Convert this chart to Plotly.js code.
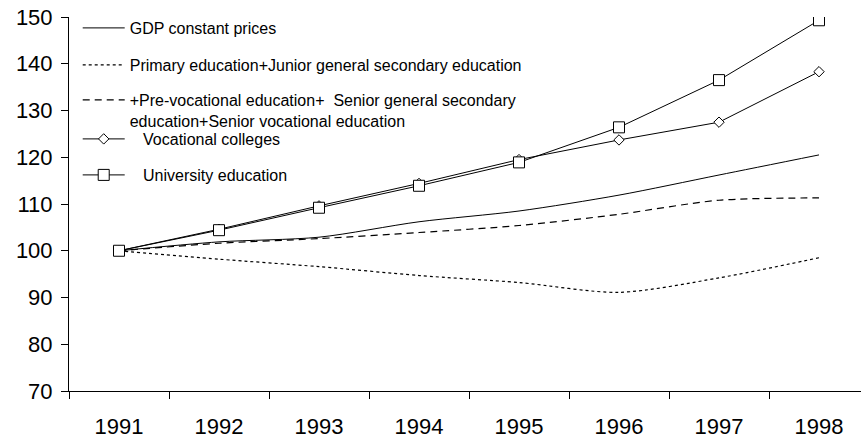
<!DOCTYPE html>
<html>
<head>
<meta charset="utf-8">
<script src="https://cdn.plot.ly/plotly-3.0.1.min.js"></script>
<style>html,body{margin:0;padding:0;background:#fff;}#chart{width:861px;height:442px;}</style>
</head>
<body>
<div id="chart"></div>
<script>
const years = [1991, 1992, 1993, 1994, 1995, 1996, 1997, 1998];
const gdp = [100, 101.9, 102.9, 106.2, 108.5, 111.9, 116.2, 120.5];
const primaryJunior = [100, 98.2, 96.6, 94.7, 93.2, 91.1, 94.2, 98.5];
const preVocSenior = [100, 101.6, 102.6, 103.9, 105.4, 107.8, 110.8, 111.3];
const vocationalColleges = [100, 104.6, 109.6, 114.4, 119.5, 123.7, 127.5, 138.3];
const university = [100, 104.4, 109.2, 113.9, 118.9, 126.4, 136.5, 149.3];
const seriesNames = [
  'GDP constant prices',
  'Primary education+Junior general secondary education',
  '+Pre-vocational education+\u00a0 Senior general secondary<br>education+Senior vocational education',
  '\u00a0\u00a0\u00a0Vocational colleges',
  '\u00a0\u00a0\u00a0University education'
];
const yTicks = [70, 80, 90, 100, 110, 120, 130, 140, 150];

const black = '#000';
const legendFont = {size: 16, family: 'Liberation Sans, Arial, sans-serif', color: black};
// pixel row of each legend entry's first line (layout only)
const legendRows = [29, 66, 101, 140, 176];
const plotTop = 17, plotH = 374, legendOffset = 18;
function legendBox(row) {
  return {
    x: 0.011, y: 1 - (row - legendOffset - plotTop) / plotH, xanchor: 'left', yanchor: 'top',
    bgcolor: 'rgba(0,0,0,0)', borderwidth: 0, font: legendFont,
    itemwidth: 42, valign: 'top'
  };
}

const traces = [
  {x: years, y: gdp, name: seriesNames[0], mode: 'lines', legend: 'legend',
   line: {color: black, width: 1, shape: 'spline', smoothing: 0.8}},
  {x: years, y: primaryJunior, name: seriesNames[1], mode: 'lines', legend: 'legend2',
   line: {color: black, width: 1.2, dash: 'dot', shape: 'spline', smoothing: 0.8}},
  {x: years, y: preVocSenior, name: seriesNames[2], mode: 'lines', legend: 'legend3',
   line: {color: black, width: 1.2, dash: '7px,5px', shape: 'spline', smoothing: 0.8}},
  {x: years, y: vocationalColleges, name: seriesNames[3], mode: 'lines+markers', legend: 'legend4',
   line: {color: black, width: 1},
   marker: {symbol: 'diamond', size: 8, color: '#fff', line: {color: black, width: 1}}},
  {x: years, y: university, name: seriesNames[4], mode: 'lines+markers', legend: 'legend5',
   line: {color: black, width: 1},
   marker: {symbol: 'square', size: 11, color: '#fff', line: {color: black, width: 1}}}
];

const layout = {
  width: 861, height: 442,
  margin: {l: 69, r: 0, t: plotTop, b: 442 - plotTop - plotH},
  paper_bgcolor: '#fff', plot_bgcolor: '#fff',
  font: {family: 'Liberation Sans, Arial, sans-serif', color: black},
  showlegend: true,
  legend: legendBox(legendRows[0]),
  legend2: legendBox(legendRows[1]),
  legend3: legendBox(legendRows[2]),
  legend4: legendBox(legendRows[3]),
  legend5: legendBox(legendRows[4]),
  xaxis: {
    range: [1990.5, 1998.42], tickvals: years, ticktext: years.map(String),
    ticks: '', showgrid: false, zeroline: false,
    showline: true, linecolor: black, linewidth: 1,
    tickfont: {size: 22, color: black}, ticklabelstandoff: 16,
    minor: {tick0: 1991.5, dtick: 1, ticks: 'outside', ticklen: 7, tickcolor: black, tickwidth: 1, showgrid: false}
  },
  yaxis: {
    range: [70, 150], tickvals: yTicks, ticks: 'outside', ticklen: 7, tickcolor: black,
    showgrid: false, zeroline: false, showline: true, linecolor: black, linewidth: 1,
    tickfont: {size: 22, color: black}, ticklabelstandoff: 4
  }
};

Plotly.newPlot('chart', traces, layout, {displayModeBar: false, staticPlot: true});
</script>
</body>
</html>
